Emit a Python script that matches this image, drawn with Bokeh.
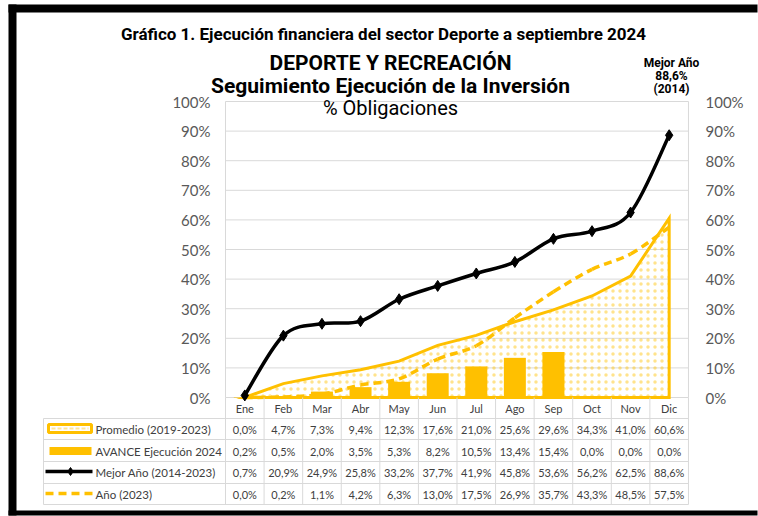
from bokeh.plotting import figure
from bokeh.models import Range1d
from bokeh.core.properties import value
from bokeh.embed import file_html
from bokeh.resources import INLINE

# ---------------- data ----------------
months = ["Ene", "Feb", "Mar", "Abr", "May", "Jun", "Jul", "Ago", "Sep", "Oct", "Nov", "Dic"]
promedio = [0.0, 4.7, 7.3, 9.4, 12.3, 17.6, 21.0, 25.6, 29.6, 34.3, 41.0, 60.6]
avance = [0.2, 0.5, 2.0, 3.5, 5.3, 8.2, 10.5, 13.4, 15.4, 0.0, 0.0, 0.0]
mejor = [0.7, 20.9, 24.9, 25.8, 33.2, 37.7, 41.9, 45.8, 53.6, 56.2, 62.5, 88.6]
anio2023 = [0.0, 0.2, 1.1, 4.2, 6.3, 13.0, 17.5, 26.9, 35.7, 43.3, 48.5, 57.5]
y_ticks = [0, 10, 20, 30, 40, 50, 60, 70, 80, 90, 100]
series_names = ["Promedio (2019-2023)", "AVANCE Ejecución 2024", "Mejor Año (2014-2023)", "Año (2023)"]
note_lines = ["Mejor Año", "88,6%", "(2014)"]
main_title = "Gráfico 1. Ejecución financiera del sector Deporte a septiembre 2024"
chart_titles = ["DEPORTE Y RECREACIÓN", "Seguimiento Ejecución de la Inversión"]
subtitle = "% Obligaciones"

# ---------------- layout helpers (page pixels -> data) ----------------
W, H = 758, 516
KX = 38.58          # px per category
KY = 2.96           # px per percent
X0 = 244.3          # page x of first category
Y0 = 397.0          # page y of 0%


def dx(px):
    return (px - X0) / KX


def dy(py):
    return (Y0 - py) / KY


GOLD = "#FFC000"
GRID = "#D9D9D9"
TXT = "#404040"
FONT = "Lato"
TFONT = "Roboto"

p = figure(width=W, height=H, output_backend="svg", toolbar_location=None,
           x_range=Range1d(dx(0), dx(W)),
           y_range=Range1d(dy(H), dy(0)),
           x_axis_type=None, y_axis_type=None, min_border=0)
p.grid.visible = False
p.outline_line_color = None
p.background_fill_color = "white"
p.border_fill_color = "white"

n = len(months)
xs = list(range(n))
left_edge, right_edge = -0.5, n - 0.5

# gridlines
p.segment(x0=[left_edge] * len(y_ticks), x1=[right_edge] * len(y_ticks), y0=y_ticks, y1=y_ticks,
          line_color=GRID, line_width=1)
p.segment(x0=[left_edge, right_edge], x1=[left_edge, right_edge], y0=[0, 0], y1=[100, 100],
          line_color=GRID, line_width=1)

# promedio area (dotted) with outline
p.patch(x=xs + [n - 1, 0], y=promedio + [0, 0], fill_alpha=0,
        hatch_pattern="dot", hatch_color=GOLD, hatch_alpha=0.45, hatch_scale=7, hatch_weight=1,
        line_color=GOLD, line_width=3, line_join="miter")

# bars
p.vbar(x=xs, top=avance, bottom=0, width=0.57, fill_color=GOLD, line_color=None)


def smooth(xv, yv):
    x0s, y0s, x1s, y1s, c0x, c0y, c1x, c1y = [], [], [], [], [], [], [], []
    m = len(xv)
    for i in range(m - 1):
        pa = (xv[max(i - 1, 0)], yv[max(i - 1, 0)])
        pb = (xv[i], yv[i])
        pc = (xv[i + 1], yv[i + 1])
        pd = (xv[min(i + 2, m - 1)], yv[min(i + 2, m - 1)])
        x0s.append(pb[0]); y0s.append(pb[1])
        x1s.append(pc[0]); y1s.append(pc[1])
        c0x.append(pb[0] + (pc[0] - pa[0]) / 6); c0y.append(pb[1] + (pc[1] - pa[1]) / 6)
        c1x.append(pc[0] - (pd[0] - pb[0]) / 6); c1y.append(pc[1] - (pd[1] - pb[1]) / 6)
    return dict(x0=x0s, y0=y0s, x1=x1s, y1=y1s, cx0=c0x, cy0=c0y, cx1=c1x, cy1=c1y)


# año 2023 dashed smooth
s = smooth(xs, anio2023)
p.bezier(**s, line_color=GOLD, line_width=3.5, line_dash="8 5")

# mejor año smooth black
s = smooth(xs, mejor)
p.bezier(**s, line_color="black", line_width=3.5)
p.scatter(x=xs, y=mejor, marker="diamond", size=11, fill_color="black", line_color="black")

# y-axis labels
lab = [f"{t}%" for t in y_ticks]
p.text(x=[dx(210)] * len(y_ticks), y=y_ticks, text=lab, text_align="right", text_baseline="middle",
       text_font=value(FONT), text_font_size="15px", text_color="#595959")
p.text(x=[dx(705)] * len(y_ticks), y=y_ticks, text=lab, text_align="left", text_baseline="middle",
       text_font=value(FONT), text_font_size="15px", text_color="#595959")

# titles
p.text(x=[dx(383)], y=[dy(33)], text=[main_title], text_align="center", text_baseline="middle",
       text_font=value(TFONT), text_font_size="17px", text_font_style="bold", text_color="black")
p.text(x=[dx(390), dx(390)], y=[dy(62), dy(85)], text=chart_titles, text_align="center",
       text_baseline="middle", text_font=value(TFONT), text_font_size="21px",
       text_font_style="bold", text_color="black")
p.text(x=[dx(390)], y=[dy(107)], text=[subtitle], text_align="center", text_baseline="middle",
       text_font=value(TFONT), text_font_size="20px", text_color="black")
p.text(x=[dx(671)] * 3, y=[dy(62), dy(75), dy(88)], text=note_lines, text_align="center",
       text_baseline="middle", text_font=value(TFONT), text_font_size="12px",
       text_font_style="bold", text_color="black")

# ---------------- data table ----------------
row_lines = [418, 439, 461, 483, 504]
p.segment(x0=[dx(43)] * len(row_lines), x1=[right_edge] * len(row_lines),
          y0=[dy(r) for r in row_lines], y1=[dy(r) for r in row_lines], line_color=GRID, line_width=1)
vx = [left_edge + k for k in range(n + 1)]
p.segment(x0=vx, x1=vx, y0=[0] * len(vx), y1=[dy(504)] * len(vx), line_color=GRID, line_width=1)
p.segment(x0=[dx(43)], x1=[dx(43)], y0=[dy(418)], y1=[dy(504)], line_color=GRID, line_width=1)

p.text(x=xs, y=[dy(408)] * n, text=months, text_align="center", text_baseline="middle",
       text_font=value(FONT), text_font_size="11px", text_color=TXT)


def fmt(v):
    return f"{v:.1f}%".replace(".", ",")


rows_y = [429, 450.5, 472, 493.5]
for vals, ry in zip([promedio, avance, mejor, anio2023], rows_y):
    p.text(x=xs, y=[dy(ry)] * n, text=[fmt(v) for v in vals], text_align="center",
           text_baseline="middle", text_font=value(FONT), text_font_size="11px", text_color=TXT)
p.text(x=[dx(95)] * 4, y=[dy(r) for r in rows_y], text=series_names, text_align="left",
       text_baseline="middle", text_font=value(FONT), text_font_size="11.5px", text_color=TXT)

# legend keys
p.rect(x=[dx(69.5)], y=[dy(428)], width=43, height=8, width_units="screen", height_units="screen",
       fill_color="white", line_color=GOLD, line_width=3)
p.segment(x0=[dx(51)], x1=[dx(88)], y0=[dy(428)], y1=[dy(428)], line_color="#FFE699", line_width=2,
          line_dash="4 2")
p.rect(x=[dx(70)], y=[dy(450.5)], width=42, height=8, width_units="screen", height_units="screen",
       fill_color=GOLD, line_color=None)
p.segment(x0=[dx(45)], x1=[dx(92)], y0=[dy(471)], y1=[dy(471)], line_color="black", line_width=3.5)
p.scatter(x=[dx(70)], y=[dy(471)], marker="diamond", size=8, fill_color="black", line_color="black")
p.segment(x0=[dx(45)], x1=[dx(92)], y0=[dy(493)], y1=[dy(493)], line_color=GOLD, line_width=3.5,
          line_dash="8 5")

# black frame (top, left, bottom) as plain quads
p.quad(left=[dx(8), dx(8), dx(8)], right=[dx(W - 1), dx(16), dx(W - 1)],
       top=[dy(4), dy(4), dy(510)], bottom=[dy(12), dy(H - 1), dy(H - 1)],
       fill_color="black", line_color=None)

open("out.html", "w").write(file_html(p, INLINE))
